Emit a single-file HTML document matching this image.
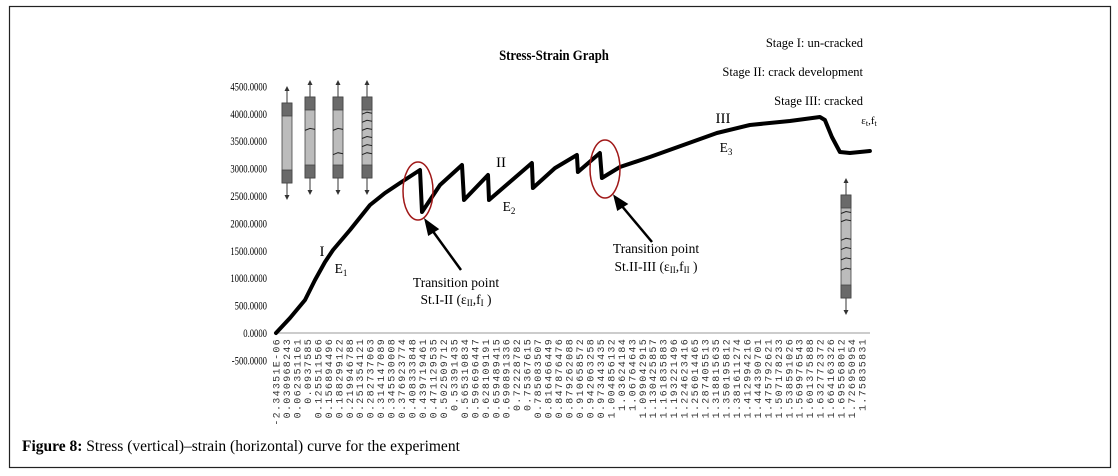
<!DOCTYPE html>
<html><head><meta charset="utf-8"><style>
html,body{margin:0;padding:0;background:#fff;}
#wrap{position:relative;width:1118px;height:476px;overflow:hidden;}
svg text{font-family:"Liberation Serif",serif;}
svg text.mono{font-family:"Liberation Mono",monospace;}
</style></head><body>
<div id="wrap">
<svg id="chart" width="1118" height="476">
<rect x="9.5" y="6.5" width="1101" height="461" fill="none" stroke="#222" stroke-width="1.2"/>
<text x="554" y="60" text-anchor="middle" font-size="15" font-weight="bold" transform="translate(554,0) scale(0.85,1) translate(-554,0)">Stress-Strain Graph</text>
<g font-size="12.5" text-anchor="end">
<text x="863" y="47">Stage I: un-cracked</text>
<text x="863" y="76">Stage II: crack development</text>
<text x="863" y="105">Stage III: cracked</text>
</g>
<g id="yaxis"></g>
<g id="xaxis"></g>
<g id="icons"></g>
<path id="curve" fill="none" stroke="#000" stroke-width="4" stroke-linejoin="round" stroke-linecap="round"/>
<ellipse cx="418" cy="191" rx="15" ry="29" fill="none" stroke="#a01818" stroke-width="1.5"/>
<ellipse cx="605" cy="169" rx="15" ry="29" fill="none" stroke="#a01818" stroke-width="1.5"/>
<g stroke="#000" stroke-width="2.5" fill="#000">
<line x1="461" y1="270" x2="432" y2="230"/><polygon points="426,221 437,229 429,234" />
<line x1="652" y1="242" x2="621" y2="205"/><polygon points="615,197 626,204 618,209"/>
</g>
<g font-size="13.5" text-anchor="middle">
<text x="456" y="287">Transition point</text>
<text x="456" y="304">St.I-II (ε<tspan font-size="9" dy="2">II</tspan><tspan dy="-2">,f</tspan><tspan font-size="9" dy="2">I</tspan><tspan dy="-2"> )</tspan></text>
<text x="656" y="253">Transition point</text>
<text x="656" y="271">St.II-III (ε<tspan font-size="9" dy="2">II</tspan><tspan dy="-2">,f</tspan><tspan font-size="9" dy="2">II</tspan><tspan dy="-2"> )</tspan></text>
<text x="322" y="256" font-size="15">I</text>
<text x="341" y="273">E<tspan font-size="9" dy="3">1</tspan></text>
<text x="501" y="167" font-size="15">II</text>
<text x="509" y="211">E<tspan font-size="9" dy="3">2</tspan></text>
<text x="723" y="123" font-size="15">III</text>
<text x="726" y="152">E<tspan font-size="9" dy="3">3</tspan></text>
<text x="869" y="124" font-size="11">ε<tspan font-size="8" dy="2">t</tspan><tspan dy="-2">,f</tspan><tspan font-size="8" dy="2">t</tspan></text>
</g>
<text x="22" y="451" font-size="15.5"><tspan font-weight="bold">Figure 8:</tspan> Stress (vertical)–strain (horizontal) curve for the experiment</text>
</svg>
</div>
<script>
const yTicks = [-500, 0, 500, 1000, 1500, 2000, 2500, 3000, 3500, 4000, 4500];
const xTickLabels = ["-2.34351E-06","0.030968243","0.062351161","0.0937585","0.125511566","0.156894496","0.188299122","0.219946788","0.251354121","0.282737063","0.314147089","0.345530008","0.376923774","0.408333848","0.439719461","0.471129535","0.502509712","0.53391435","0.565310834","0.596696447","0.628109191","0.659489415","0.690891336","0.72228782","0.75367615","0.785083507","0.816466449","0.847876476","0.879262088","0.910658572","0.942063258","0.973443435","1.004856132","1.03624184","1.06764643","1.099042915","1.130425857","1.161835883","1.193221496","1.224623416","1.256014465","1.287405513","1.318815635","1.350195812","1.381611274","1.412994216","1.444390701","1.475792621","1.507178233","1.538591026","1.569976543","1.601375888","1.632772372","1.664163326","1.695568012","1.726950954","1.75835831"];
const strain = [0,0.042,0.087,0.117,0.147,0.171,0.222,0.282,0.327,0.372,0.432,0.438,0.492,0.558,0.564,0.636,0.639,0.768,0.771,0.837,0.903,0.906,0.972,0.978,1.032,1.122,1.323,1.422,1.542,1.632,1.647,1.668,1.692,1.722,1.782];
const stress = [0,274,602,967,1296,1515,1880,2336,2555,2738,2975,2208,2700,3066,2427,2884,2427,3103,2646,3010,3249,2938,3285,2829,3030,3212,3650,3796,3869,3942,3887,3577,3303,3285,3322];

const NS = "http://www.w3.org/2000/svg";
const X0 = 276, X1 = 862, Y0 = 333, PXPER = 27.4/500;
const xMax = 1.75835831;
function xs(v){ return X0 + (v / xMax) * (X1 - X0); }
function ys(v){ return Y0 - v * PXPER; }
function mk(tag, attrs, parent){ const e = document.createElementNS(NS, tag); for (const k in attrs) e.setAttribute(k, attrs[k]); parent.appendChild(e); return e; }

const yg = document.getElementById('yaxis');
yTicks.forEach(t => {
  const tx = mk('text', {x: 267, y: ys(t) + 4, 'text-anchor': 'end', 'font-size': '12', transform: `translate(267,0) scale(0.72,1) translate(-267,0)`}, yg);
  
  
  tx.textContent = t.toFixed(4);
});
const xg = document.getElementById('xaxis');
const zl = mk('line', {x1: 274, x2: 870, y1: Y0, y2: Y0, stroke: '#bbb', 'stroke-width': 1.5}, xg);


xTickLabels.forEach((lab, i) => {
  const x = X0 + i * (X1 - X0) / (xTickLabels.length - 1);
  const tx = mk('text', {x: 0, y: 0, class: 'mono', 'text-anchor': 'end', 'font-size': '10', 'letter-spacing': '1.3', transform: `translate(${x + 3.5},${338}) rotate(-90)`, fill: '#333'}, xg);
  
  
  tx.textContent = lab;
});

let d = '';
strain.forEach((s, i) => { d += (i ? 'L' : 'M') + xs(s).toFixed(1) + ',' + ys(stress[i]).toFixed(1); });
document.getElementById('curve').setAttribute('d', d);

const ig = document.getElementById('icons');
function specimen(cx, top, bot, cracks){
  const g = mk('g', {}, ig);
  
  
  const w = 10, cap = 13;
  mk('line', {x1: cx, x2: cx, y1: top - 15, y2: bot + 15, stroke: '#333', 'stroke-width': 1}, g);
  mk('polygon', {points: `${cx-2.5},${top-12} ${cx+2.5},${top-12} ${cx},${top-17}`, fill: '#333'}, g);
  mk('polygon', {points: `${cx-2.5},${bot+12} ${cx+2.5},${bot+12} ${cx},${bot+17}`, fill: '#333'}, g);
  mk('rect', {x: cx - w/2, y: top, width: w, height: bot - top, fill: '#bcbcbc', stroke: '#444', 'stroke-width': 0.8}, g);
  mk('rect', {x: cx - w/2, y: top, width: w, height: cap, fill: '#6a6a6a', stroke: '#444', 'stroke-width': 0.8}, g);
  mk('rect', {x: cx - w/2, y: bot - cap, width: w, height: cap, fill: '#6a6a6a', stroke: '#444', 'stroke-width': 0.8}, g);
  cracks.forEach(f => { const y = top + f * (bot - top); mk('path', {d: `M${cx-5},${y+1} L${cx},${y-1} L${cx+5},${y}`, stroke: '#222', 'stroke-width': 1, fill: 'none'}, g); });
}
specimen(287, 103, 183, []);
specimen(310, 97, 178, [0.4]);
specimen(338, 97, 178, [0.4, 0.7]);
specimen(367, 97, 178, [0.2, 0.3, 0.4, 0.5, 0.6, 0.7]);
specimen(846, 195, 298, [0.17, 0.25, 0.43, 0.52, 0.62, 0.72]);
</script>
</body></html>
